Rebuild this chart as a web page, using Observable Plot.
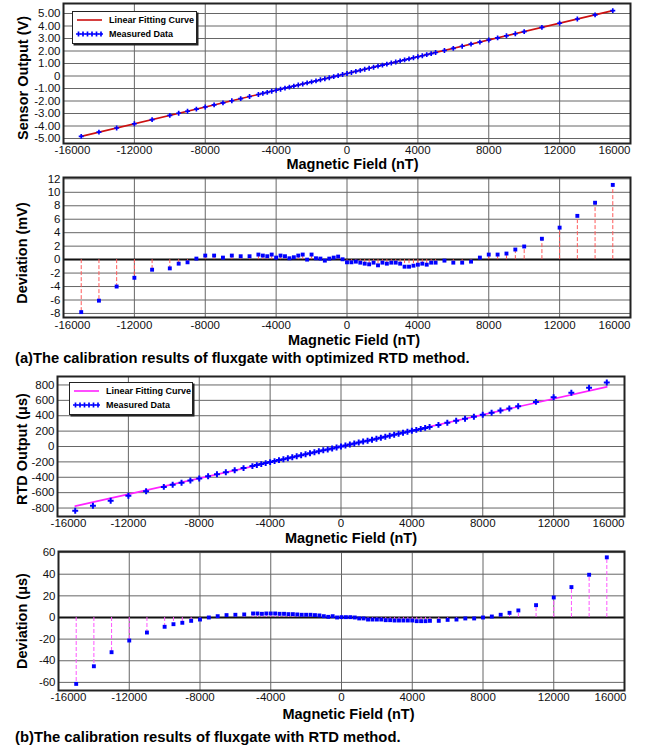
<!DOCTYPE html>
<html><head><meta charset="utf-8">
<script src="https://cdn.jsdelivr.net/npm/d3@7"></script>
<script src="https://cdn.jsdelivr.net/npm/@observablehq/plot@0.6"></script>
<style>
body{margin:0;background:#fff;font-family:"Liberation Sans",Arial,sans-serif;}
#root{position:relative;width:645px;height:752px;overflow:hidden;background:#fff;}
.panel{position:absolute;left:0;}
.caption{position:absolute;font-weight:bold;white-space:nowrap;color:#000;line-height:1;}
.legend{position:absolute;background:#fff;border:1px solid #222;box-shadow:1.5px 1.5px 0 #222;font-weight:bold;font-size:9px;color:#000;}
.legend .row{position:absolute;left:3px;height:12px;display:flex;align-items:center;}
.legend .row span{margin-left:6px;}
</style></head><body><div id="root"></div>
<script>
// ---- data ----
const field = [-15000,-14000,-13000,-12000,-11000,-10000,-9500,-9000,-8500,-8000,-7500,-7000,-6500,-6000,-5500,-5000,
  -4750,-4500,-4250,-4000,-3750,-3500,-3250,-3000,-2750,-2500,-2250,-2000,-1750,-1500,-1250,-1000,-750,-500,-250,
  0,
  250,500,750,1000,1250,1500,1750,2000,2250,2500,2750,3000,3250,3500,3750,4000,4250,4500,4750,5000,
  5500,6000,6500,7000,7500,8000,8500,9000,9500,10000,11000,12000,13000,14000,15000];

const sensorV = [-4.83,-4.49,-4.16,-3.82,-3.49,-3.15,-2.98,-2.82,-2.65,-2.48,-2.31,-2.15,-1.98,-1.81,-1.64,-1.48,
  -1.39,-1.31,-1.22,-1.14,-1.06,-0.97,-0.89,-0.81,-0.72,-0.64,-0.55,-0.47,-0.39,-0.30,-0.22,-0.14,-0.05,0.03,0.12,
  0.20,
  0.28,0.37,0.45,0.54,0.62,0.70,0.79,0.87,0.95,1.04,1.12,1.21,1.29,1.37,1.46,1.54,1.62,1.71,1.79,1.88,
  2.04,2.21,2.38,2.55,2.71,2.88,3.05,3.22,3.38,3.55,3.89,4.22,4.56,4.89,5.23];

const deviationA = [-7.8,-6.1,-4.0,-2.7,-1.5,-1.3,-0.6,-0.4,0.15,0.6,0.6,0.3,0.6,0.5,0.5,0.75,
  0.6,0.5,0.75,0.3,0.6,0.5,0.2,0.35,0.6,0.75,0.0,0.75,0.2,0.15,-0.15,0.15,0.3,0.45,0.05,
  -0.4,
  -0.4,-0.3,-0.45,-0.6,-0.7,-0.45,-0.85,-0.45,-0.6,-0.45,-0.45,-0.6,-1.05,-1.05,-0.9,-0.75,-0.6,-0.75,-0.45,-0.45,
  -0.15,-0.45,-0.45,-0.3,0.3,0.75,0.75,0.9,1.5,1.95,3.1,4.75,6.5,8.45,11.1];

const rtdOutput = [-836,-769,-704,-641,-582,-525,-497,-470,-442,-415,-388,-360,-334,-308,-281,-255,
  -242,-229,-216,-203,-190,-177,-165,-152,-139,-126,-114,-101,-88,-75,-63,-50,-38,-25,-13,
  0,
  13,26,39,51,64,76,89,101,114,127,140,152,165,178,191,204,216,229,242,255,
  281,308,334,361,387,413,440,468,495,523,580,639,700,763,831];

const deviationB = [-61.4,-45.1,-32.1,-21.3,-13.9,-8.6,-6.2,-4.9,-3.1,-1.9,0,1.2,2.2,2.5,2.8,3.7,
  3.7,3.4,3.7,3.7,3.7,3.4,3.4,3.1,3.1,2.8,2.5,2.5,2.5,2.2,1.9,1.2,0.6,1.2,0,
  0.3,
  0.3,0.3,0,-0.9,-0.9,-1.9,-1.9,-1.9,-1.9,-2.5,-2.5,-2.8,-2.8,-2.8,-2.8,-2.8,-3.4,-3.4,-3.4,-3.1,
  -3.1,-2.2,-1.9,-0.9,-0.9,0,0.9,2.5,4.3,6.5,11.4,18.5,28.1,39.5,55.6];

const fitFieldA = [-15000, 15000];
const fitSensorV = [-4.83, 5.23];
const fitFieldB = [-15000, 15000];
const fitRtd = [-775, 775];

const xTicks = [-16000,-12000,-8000,-4000,0,4000,8000,12000,16000];
const yTicksSensor = [-5,-4,-3,-2,-1,0,1,2,3,4,5];
const yTicksDevA = [-8,-6,-4,-2,0,2,4,6,8,10,12];
const yTicksRtd = [-800,-600,-400,-200,0,200,400,600,800];
const yTicksDevB = [-60,-40,-20,0,20,40,60];

const xTitle = "Magnetic Field (nT)";
const captionA = "(a)The calibration results of fluxgate with optimized RTD method.";
const captionB = "(b)The calibration results of fluxgate with RTD method.";

// ---- helpers ----
const FONT = "'Liberation Sans', Arial, sans-serif";
const root = document.getElementById("root");
const rowsA = field.map((f, i) => ({f, v: sensorV[i], d: deviationA[i]}));
const rowsB = field.map((f, i) => ({f, v: rtdOutput[i], d: deviationB[i]}));
const fitA = fitFieldA.map((f, i) => ({f, v: fitSensorV[i]}));
const fitB = fitFieldB.map((f, i) => ({f, v: fitRtd[i]}));
const GRID = "#666666";

function panel(cfg) {
  const tickFont = 11.5;
  const inner = xTicks.slice(1, -1);
  const marks = [
    Plot.gridX({ticks: xTicks, stroke: GRID, strokeOpacity: 1, strokeWidth: 1}),
    Plot.gridY({ticks: cfg.yTicks, stroke: GRID, strokeOpacity: 1, strokeWidth: 1}),
    ...cfg.marks,
    Plot.frame({stroke: "#222", strokeWidth: 2}),
    Plot.axisX({ticks: inner, tickSize: 0, tickPadding: cfg.xPad, fontSize: tickFont, tickFormat: d => String(d), label: null}),
    Plot.axisX({ticks: [xTicks[0]], tickSize: 0, tickPadding: cfg.xPad, fontSize: tickFont, dx: cfg.dxL, tickFormat: d => String(d), label: null}),
    Plot.axisX({ticks: [xTicks[xTicks.length - 1]], tickSize: 0, tickPadding: cfg.xPad, fontSize: tickFont, dx: cfg.dxR, tickFormat: d => String(d), label: null}),
    Plot.axisY({ticks: cfg.yTicks, tickSize: 0, tickPadding: cfg.yPad, fontSize: tickFont, tickFormat: cfg.yFmt, label: null}),
    Plot.text([xTitle], {frameAnchor: "bottom", lineAnchor: "middle", textAnchor: "middle", dy: cfg.xlDy, dx: cfg.xlDx, fontSize: 14.5, fontWeight: "bold", fill: "#000"}),
    Plot.text([cfg.yTitle], {frameAnchor: "left", lineAnchor: "middle", textAnchor: "middle", dx: cfg.ylDx, dy: cfg.ylDy, rotate: -90, fontSize: 14.5, fontWeight: "bold", fill: "#000"})
  ];
  const svg = Plot.plot({
    width: 645, height: cfg.height,
    marginTop: cfg.mt, marginBottom: cfg.mb, marginLeft: cfg.ml, marginRight: cfg.mr,
    x: {domain: [-16000, 16000]},
    y: {domain: cfg.yDomain},
    style: {fontFamily: FONT, color: "#111", background: "transparent", overflow: "visible"},
    marks
  });
  const wrap = document.createElement("div");
  wrap.className = "panel";
  wrap.style.top = cfg.top + "px";
  wrap.appendChild(svg);
  root.appendChild(wrap);
}

const stemA = "#ff5a5a", stemB = "#ff55ff";

panel({
  top: 0, height: 172, mt: 3, mb: 29, ml: 63, mr: 15,
  yDomain: [-5.4, 5.8], yTicks: yTicksSensor,
  yFmt: d => d === 0 ? "0" : d.toFixed(2),
  yTitle: "Sensor Output (V)",
  xPad: 2, yPad: 3, dxL: 9, dxR: -16, xlDy: 21, xlDx: 5.5, ylDx: -40, ylDy: 4.5,
  marks: [
    Plot.line(fitA, {x: "f", y: "v", stroke: "#cc1010", strokeWidth: 1.6}),
    Plot.dot(rowsA, {x: "f", y: "v", symbol: "cross", r: 2.1, fill: "#0000ff", stroke: "none"})
  ]
});

panel({
  top: 172, height: 180, mt: 5, mb: 35, ml: 63, mr: 15,
  yDomain: [-8.6, 12.2], yTicks: yTicksDevA, yFmt: d => String(d),
  yTitle: "Deviation (mV)",
  xPad: 3, yPad: 3, dxL: 9, dxR: -16, xlDy: 22.5, xlDx: 7, ylDx: -41, ylDy: 5.5,
  marks: [
    Plot.ruleY([0], {stroke: "#111", strokeWidth: 2}),
    Plot.ruleX(rowsA, {x: "f", y1: 0, y2: "d", stroke: stemA, strokeWidth: 1, strokeDasharray: "4,2"}),
    Plot.dot(rowsA, {x: "f", y: "d", symbol: "square", r: 2.2, fill: "#0000ff", stroke: "none"})
  ]
});

panel({
  top: 372, height: 172, mt: 4, mb: 28, ml: 57, mr: 21,
  yDomain: [-910, 910], yTicks: yTicksRtd, yFmt: d => String(d),
  yTitle: "RTD Output (μs)",
  xPad: 2, yPad: 3, dxL: 11, dxR: -16, xlDy: 21.5, xlDx: 10, ylDx: -35, ylDy: 2.6,
  marks: [
    Plot.line(fitB, {x: "f", y: "v", stroke: "#ff22ff", strokeWidth: 1.6}),
    Plot.dot(rowsB, {x: "f", y: "v", symbol: "cross", r: 2.5, fill: "#0000ff", stroke: "none"})
  ]
});

panel({
  top: 544, height: 180, mt: 7, mb: 34, ml: 58, mr: 21,
  yDomain: [-67.5, 61], yTicks: yTicksDevB, yFmt: d => String(d),
  yTitle: "Deviation (μs)",
  xPad: 2, yPad: 3, dxL: 10, dxR: -14, xlDy: 23.5, xlDx: 7, ylDx: -36, ylDy: 0,
  marks: [
    Plot.ruleY([0], {stroke: "#111", strokeWidth: 2}),
    Plot.ruleX(rowsB, {x: "f", y1: 0, y2: "d", stroke: stemB, strokeWidth: 1, strokeDasharray: "4,2"}),
    Plot.dot(rowsB, {x: "f", y: "d", symbol: "square", r: 2.2, fill: "#0000ff", stroke: "none"})
  ]
});

// ---- legends ----
function legend(left, top, w, h, lineColor) {
  const el = document.createElement("div");
  el.className = "legend";
  Object.assign(el.style, {left: left + "px", top: top + "px", width: w + "px", height: h + "px"});
  const ns = "http://www.w3.org/2000/svg";
  const mk = (content) => {
    const s = document.createElementNS(ns, "svg");
    s.setAttribute("width", 27); s.setAttribute("height", 12);
    s.innerHTML = content; return s;
  };
  const r1 = document.createElement("div"); r1.className = "row"; r1.style.top = "2px";
  r1.appendChild(mk(`<line x1="1" x2="26" y1="6" y2="6" stroke="${lineColor}" stroke-width="1.6"/>`));
  const t1 = document.createElement("span"); t1.textContent = "Linear Fitting Curve"; r1.appendChild(t1);
  const r2 = document.createElement("div"); r2.className = "row"; r2.style.top = "16px";
  const cross = d3.symbol(d3.symbolCross, 14)();
  let g = "";
  for (let i = 0; i < 6; i++) g += `<path transform="translate(${2.5 + i * 4.5},6)" d="${cross}" fill="#0000ff"/>`;
  r2.appendChild(mk(g));
  const t2 = document.createElement("span"); t2.textContent = "Measured Data"; r2.appendChild(t2);
  el.appendChild(r1); el.appendChild(r2);
  root.appendChild(el);
}
legend(72, 11, 123, 31, "#cc1010");
legend(69, 382, 122, 31, "#ff22ff");

// ---- captions ----
function caption(text, left, centerY, targetWidth) {
  const c = document.createElement("canvas").getContext("2d");
  c.font = `bold 100px ${FONT}`;
  const size = targetWidth / c.measureText(text).width * 100;
  const el = document.createElement("div");
  el.className = "caption";
  el.textContent = text;
  Object.assign(el.style, {left: left + "px", top: (centerY - size * 0.55) + "px", fontSize: size.toFixed(2) + "px"});
  root.appendChild(el);
}
caption(captionA, 15, 359, 455);
caption(captionB, 15, 738, 386);
</script></body></html>
